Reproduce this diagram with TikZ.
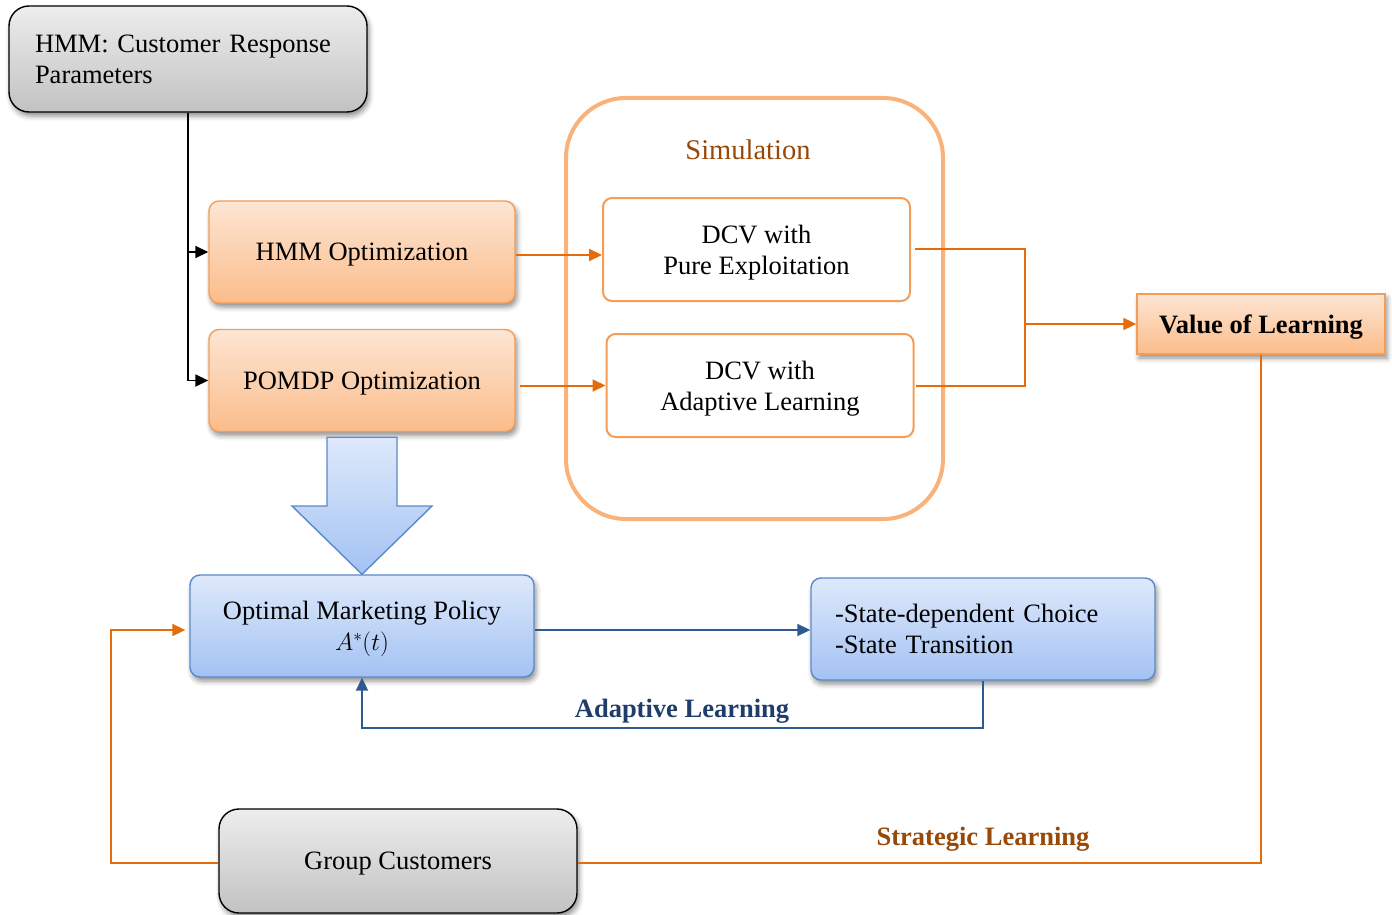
\documentclass[tikz,border=0pt]{standalone}
\usepackage{fontspec}
\setmainfont{Liberation Serif}
\usetikzlibrary{arrows.meta,shadows.blur,calc}
\definecolor{orline}{HTML}{E46C0A}
\definecolor{orborder}{HTML}{F59D56}
\definecolor{ortop}{HTML}{FDE6D4}
\definecolor{orbot}{HTML}{FBBC8A}
\definecolor{simborder}{HTML}{F9B27A}
\definecolor{brown}{HTML}{984807}
\definecolor{bltop}{HTML}{DEE9FB}
\definecolor{blbot}{HTML}{A3C2F3}
\definecolor{blborder}{HTML}{5B89C8}
\definecolor{blline}{HTML}{2F5A8F}
\definecolor{bltext}{HTML}{1F3D6B}
\definecolor{grtop}{HTML}{EDEDED}
\definecolor{grbot}{HTML}{C2C2C2}
\tikzset{
  basefont/.style={font=\fontsize{26.5}{31}\selectfont},
  lowered/.style={text depth=0pt},
  shad/.style={blur shadow={shadow xshift=2pt,shadow yshift=-4pt,shadow blur radius=5pt,shadow opacity=45}},
  graybox/.style={basefont,draw=black,line width=1.4pt,rounded corners=20pt,top color=grtop,bottom color=grbot,shad,align=center},
  orbox/.style={basefont,lowered,draw=orborder,line width=1.4pt,rounded corners=10pt,top color=ortop,bottom color=orbot,shad,align=center,minimum width=306pt,minimum height=102pt},
  dcvbox/.style={basefont,lowered,draw=orborder,line width=2pt,rounded corners=9pt,fill=white,align=center,minimum width=307pt,minimum height=103pt},
  bluebox/.style={basefont,draw=blborder,line width=1.4pt,rounded corners=10pt,top color=bltop,bottom color=blbot,shad,minimum width=344pt,minimum height=102pt},
  tip/.style={-{Triangle[length=13pt,width=12pt]}},
  blkline/.style={draw=black,line width=1.8pt},
  orline/.style={draw=orline,line width=2pt},
  blueline/.style={draw=blline,line width=2pt},
  boldlabel/.style={font=\fontsize{26.5}{31}\selectfont\bfseries,lowered},
}
\begin{document}
\begin{tikzpicture}[x=1pt,y=-1pt]
\useasboundingbox (0,0) rectangle (1392,915);

% simulation container
\node[draw=simborder,line width=4pt,rounded corners=60pt,minimum width=377pt,minimum height=421pt] (sim) at (754.5,308.5) {};
\node[font=\fontsize{28.5}{33}\selectfont,lowered,text=brown] (simlabel) at (748,150) {Simulation};

% nodes
\node[graybox,minimum width=358pt,minimum height=106pt,text width=306pt,align=left,inner xsep=0pt] (top) at (188,59) {HMM: Customer Response\\Parameters};
\node[orbox] (hmmopt) at (362,252) {HMM Optimization};
\node[orbox] (pomdp) at (362,380.5) {POMDP Optimization};
\node[dcvbox] (dcvp) at (756.5,249.5) {DCV with\\Pure Exploitation};
\node[dcvbox] (dcva) at (760,385.5) {DCV with\\Adaptive Learning};
\node[orbox,font=\fontsize{26.5}{31}\selectfont\bfseries,minimum width=248pt,minimum height=60pt,rounded corners=0pt] (vol) at (1261,324) {Value of Learning};
\node[bluebox,lowered,align=center] (opt) at (362,626) {Optimal Marketing Policy\\$A^{*}(t)$};
\node[bluebox,text width=296pt,align=left,inner xsep=0pt] (state) at (983,629) {-State-dependent Choice\\-State Transition};
\node[graybox,lowered,minimum width=358pt,minimum height=104pt] (group) at (398,861) {Group Customers};

% block arrow
\shade[top color=bltop,bottom color=blbot,draw=blborder,line width=1.4pt]
  ($(pomdp.south)+(-35,5)$) -- ($(pomdp.south)+(35,5)$) -- (397,506) -- (432,506)
  -- (opt.north) -- (292,506) -- (327,506) -- cycle;

% black connectors
\draw[blkline,tip] (top.south) |- (pomdp.west);
\draw[blkline,tip] (top.south |- hmmopt.west) -- (hmmopt.west);

% orange connectors
\draw[orline,tip] ($(hmmopt.east)+(0,3)$) -- ($(hmmopt.east -| dcvp.west)+(0,3)$);
\draw[orline,tip] ($(pomdp.east)+(4,5)$) -- ($(pomdp.east -| dcva.west)+(0,5)$);
\coordinate (j) at (1025,324);
\draw[orline] ($(dcvp.east)+(4,-1)$) -| (j);
\draw[orline] ($(dcva.east)+(1,0)$) -| (j);
\draw[orline,tip] (j) -- (vol.west);
\draw[orline] (vol.south) |- ($(group.east)+(0,2)$);
\draw[orline,tip] ($(group.west)+(0,2)$) -- ++(-107,0) |- ($(opt.west)+(-4,4)$);
\node[boldlabel,text=brown] (strat) at (983,836) {Strategic Learning};

% blue connectors
\draw[blueline,tip] ($(opt.east)+(0,4)$) -- ($(opt.east -| state.west)+(0,4)$);
\draw[blueline,tip] (state.south) -- ++(0,47) -| (opt.south);
\node[boldlabel,text=bltext] (adl) at (682,708) {Adaptive Learning};
\end{tikzpicture}
\end{document}
